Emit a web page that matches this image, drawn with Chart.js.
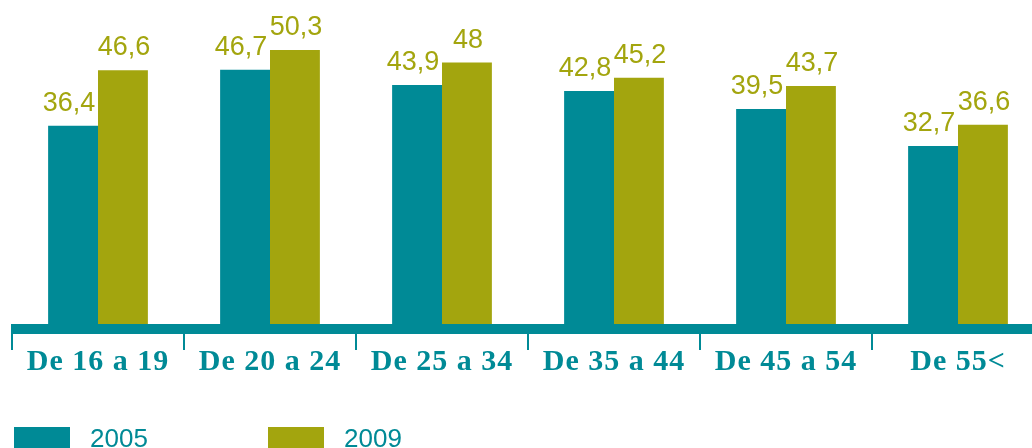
<!DOCTYPE html>
<html>
<head>
<meta charset="utf-8">
<script src="https://cdn.jsdelivr.net/npm/chart.js@4"></script>
<style>
    html, body { margin: 0; padding: 0; background: #fff; overflow: hidden; }
    #wrap { position: absolute; left: 0; top: 0; width: 1044px; height: 448px; }
</style>
</head>
<body>
<div id="wrap"><canvas id="chart"></canvas></div>
<script>
// Data
const categories = ['De 16 a 19', 'De 20 a 24', 'De 25 a 34', 'De 35 a 44', 'De 45 a 54', 'De 55<'];
const values2005 = [36.4, 46.7, 43.9, 42.8, 39.5, 32.7];
const values2009 = [46.6, 50.3, 48, 45.2, 43.7, 36.6];
const seriesNames = ['2005', '2009'];

const TEAL = '#008a96';
const OLIVE = '#a3a50e';

// Value labels above bars, thick axis line and legend
const decorPlugin = {
    id: 'decor',
    beforeDraw(chart) {
        chart.ctx.letterSpacing = '1px';
    },
    afterDatasetsDraw(chart) {
        const ctx = chart.ctx;
        const area = chart.chartArea;

        // value labels
        ctx.save();
        ctx.letterSpacing = '0px';
        ctx.font = '27px "Liberation Sans", Arial, sans-serif';
        ctx.fillStyle = OLIVE;
        ctx.textAlign = 'center';
        ctx.textBaseline = 'alphabetic';
        chart.data.datasets.forEach((ds, i) => {
            chart.getDatasetMeta(i).data.forEach((bar, j) => {
                const shift = i === 0 ? -4 : 1;
                ctx.fillText(String(ds.data[j]).replace('.', ','), bar.x + shift, bar.y - 15);
            });
        });
        ctx.restore();

        // thick axis line
        ctx.save();
        ctx.fillStyle = TEAL;
        ctx.fillRect(area.left, area.bottom, chart.width - area.left, 10);
        ctx.restore();

        // legend
        ctx.save();
        ctx.letterSpacing = '0px';
        ctx.font = '26px "Liberation Sans", Arial, sans-serif';
        ctx.textBaseline = 'alphabetic';
        ctx.textAlign = 'left';
        const legendX = [14, 268];
        chart.data.datasets.forEach((ds, i) => {
            ctx.fillStyle = ds.backgroundColor;
            ctx.fillRect(legendX[i], 427, 56, 24);
            ctx.fillStyle = TEAL;
            ctx.fillText(seriesNames[i], legendX[i] + 76, 447);
        });
        ctx.restore();
    }
};

new Chart(document.getElementById('chart'), {
    type: 'bar',
    data: {
        labels: categories,
        datasets: [
            { label: seriesNames[0], data: values2005, backgroundColor: TEAL },
            { label: seriesNames[1], data: values2009, backgroundColor: OLIVE }
        ]
    },
    options: {
        responsive: true,
        maintainAspectRatio: false,
        animation: false,
        layout: { padding: { left: 12, right: 0, top: 0, bottom: 0 } },
        datasets: {
            bar: { categoryPercentage: 0.58, barPercentage: 1.0 }
        },
        plugins: {
            legend: { display: false },
            tooltip: { enabled: false }
        },
        scales: {
            x: {
                afterFit: scale => { scale.height = 124; },
                border: { display: false },
                grid: {
                    offset: true,
                    drawOnChartArea: false,
                    drawTicks: true,
                    tickLength: 26,
                    lineWidth: 2,
                    color: TEAL
                },
                ticks: {
                    color: TEAL,
                    padding: -6,
                    maxRotation: 0,
                    font: { family: '"Liberation Serif", "Times New Roman", serif', size: 30, weight: 'bold' }
                }
            },
            y: {
                display: false,
                min: 0,
                max: 59.5
            }
        }
    },
    plugins: [decorPlugin]
});
</script>
</body>
</html>
